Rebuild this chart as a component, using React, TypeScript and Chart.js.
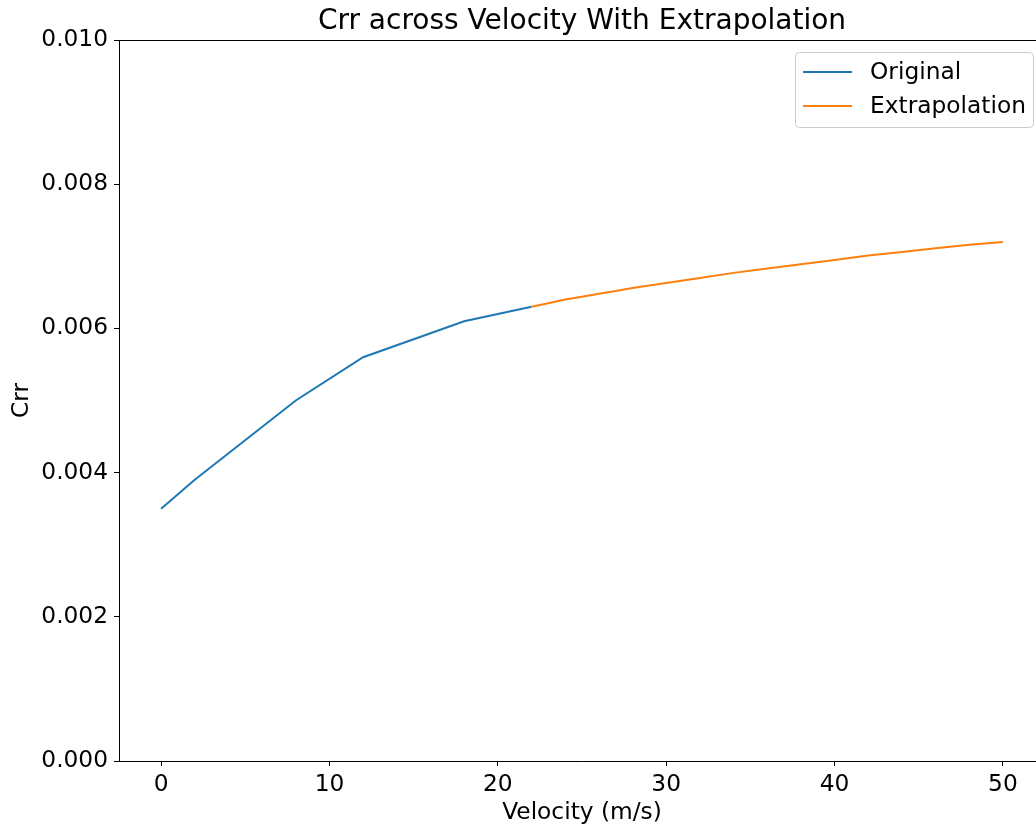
import React, { useEffect, useRef } from "react";
import { Chart, registerables } from "chart.js";

Chart.register(...registerables);

const originalVelocity = [0, 2, 8, 12, 18, 22];
const originalCrr = [0.0035, 0.0039, 0.005, 0.0056, 0.0061, 0.0063];

const extrapVelocity = [22, 23, 24, 25, 26, 27, 28, 30, 32, 34, 36, 38, 40, 42, 44, 46, 48, 50];
const extrapCrr = [
  0.0063, 0.00635, 0.0064, 0.00644, 0.00648, 0.00652, 0.00656, 0.00663, 0.0067,
  0.00677, 0.00683, 0.00689, 0.00695, 0.00701, 0.00706, 0.00711, 0.00716, 0.0072,
];

const xTicks = [0, 10, 20, 30, 40, 50];
const yTicks = [0, 0.002, 0.004, 0.006, 0.008, 0.01];

const titleText = "Crr across Velocity With Extrapolation";
const seriesNames = ["Original", "Extrapolation"];
const seriesColors = ["#1f77b4", "#ff7f0e"];

const FONT = "'DejaVu Sans', sans-serif";
const BASE = 23.3;

const decorPlugin = {
  id: "decor",
  afterDraw(chart: any) {
    const { ctx, chartArea } = chart;
    ctx.save();
    ctx.strokeStyle = "#000";
    ctx.lineWidth = 1;
    ctx.beginPath();
    ctx.moveTo(chartArea.left, chartArea.top + 0.5);
    ctx.lineTo(chartArea.right, chartArea.top + 0.5);
    ctx.stroke();
    ctx.fillStyle = "#000";
    ctx.font = `28px ${FONT}`;
    ctx.textAlign = "center";
    ctx.textBaseline = "middle";
    ctx.fillText(titleText, (chartArea.left + chartArea.right) / 2, 22);
    const bx = 795.5, by = 52.5, bw = 238, bh = 75, r = 4;
    ctx.beginPath();
    ctx.moveTo(bx + r, by);
    ctx.lineTo(bx + bw - r, by);
    ctx.arcTo(bx + bw, by, bx + bw, by + r, r);
    ctx.lineTo(bx + bw, by + bh - r);
    ctx.arcTo(bx + bw, by + bh, bx + bw - r, by + bh, r);
    ctx.lineTo(bx + r, by + bh);
    ctx.arcTo(bx, by + bh, bx, by + bh - r, r);
    ctx.lineTo(bx, by + r);
    ctx.arcTo(bx, by, bx + r, by, r);
    ctx.closePath();
    ctx.fillStyle = "rgba(255,255,255,0.8)";
    ctx.fill();
    ctx.strokeStyle = "#cccccc";
    ctx.stroke();
    ctx.font = `${BASE}px ${FONT}`;
    ctx.textAlign = "left";
    ctx.textBaseline = "middle";
    const rows = [72, 106];
    seriesNames.forEach((name, i) => {
      ctx.strokeStyle = seriesColors[i];
      ctx.lineWidth = 2;
      ctx.beginPath();
      ctx.moveTo(803, rows[i]);
      ctx.lineTo(852, rows[i]);
      ctx.stroke();
      ctx.fillStyle = "#000";
      ctx.fillText(name, 870, rows[i] + 1);
    });
    ctx.restore();
  },
};

export default function App() {
  const ref = useRef<HTMLCanvasElement>(null);
  useEffect(() => {
    if (!ref.current) return;
    const chart = new Chart(ref.current, {
      type: "line",
      data: {
        datasets: [
          {
            label: seriesNames[0],
            data: originalVelocity.map((v, i) => ({ x: v, y: originalCrr[i] })),
            borderColor: seriesColors[0],
            borderWidth: 2,
            pointRadius: 0,
            fill: false,
            tension: 0,
          },
          {
            label: seriesNames[1],
            data: extrapVelocity.map((v, i) => ({ x: v, y: extrapCrr[i] })),
            borderColor: seriesColors[1],
            borderWidth: 2,
            pointRadius: 0,
            fill: false,
            tension: 0,
          },
        ],
      },
      options: {
        animation: false,
        responsive: false,
        maintainAspectRatio: false,
        layout: { padding: { top: 40, right: 15, left: 0, bottom: 0 } },
        plugins: {
          legend: { display: false },
          title: { display: false },
          tooltip: { enabled: false },
        },
        scales: {
          x: {
            type: "linear",
            min: -2.5,
            max: 52.5,
            afterBuildTicks: (s: any) => {
              s.ticks = xTicks.map((v) => ({ value: v }));
            },
            afterFit: (s: any) => {
              s.height = 71;
            },
            grid: {
              drawOnChartArea: false,
              drawTicks: true,
              tickLength: 5,
              color: "#000",
            },
            border: { display: true, color: "#000", width: 1 },
            ticks: {
              color: "#000",
              font: { family: FONT, size: BASE },
              padding: 5,
              maxRotation: 0,
              autoSkip: false,
              callback: (v: any) => String(v),
            },
            title: {
              display: true,
              text: "Velocity (m/s)",
              color: "#000",
              font: { family: FONT, size: BASE },
              padding: { top: 0, bottom: 5 },
            },
          },
          y: {
            type: "linear",
            min: 0,
            max: 0.01,
            afterBuildTicks: (s: any) => {
              s.ticks = yTicks.map((v) => ({ value: v }));
            },
            afterFit: (s: any) => {
              s.width = 119;
            },
            grid: {
              drawOnChartArea: false,
              drawTicks: true,
              tickLength: 5,
              color: "#000",
            },
            border: { display: true, color: "#000", width: 1 },
            ticks: {
              color: "#000",
              font: { family: FONT, size: BASE },
              padding: 6,
              autoSkip: false,
              callback: (v: any) => Number(v).toFixed(3),
            },
            title: {
              display: true,
              text: "Crr",
              color: "#000",
              font: { family: FONT, size: BASE },
              padding: { top: 8, bottom: 0 },
            },
          },
        },
      },
      plugins: [decorPlugin],
    });
    return () => chart.destroy();
  }, []);
  return (
    <div
      style={{
        position: "fixed",
        left: 0,
        top: 0,
        width: 1036,
        height: 832,
        overflow: "hidden",
        background: "#fff",
      }}
    >
      <canvas ref={ref} width={1060} height={832} style={{ width: 1060, height: 832, display: "block" }} />
    </div>
  );
}
